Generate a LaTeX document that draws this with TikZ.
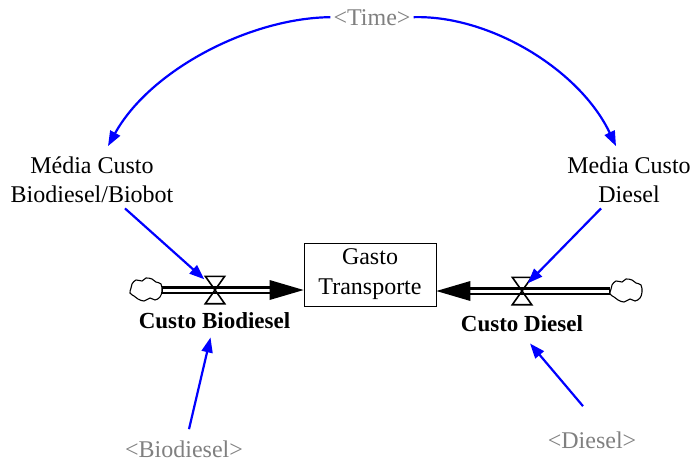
\documentclass[tikz,border=0pt]{standalone}
\usepackage{fontspec}
\setmainfont{Liberation Serif}
\usetikzlibrary{arrows.meta,calc}
\definecolor{linkblue}{RGB}{0,0,255}
\definecolor{shadowgray}{RGB}{128,128,128}
\begin{document}
\begin{tikzpicture}[x=1pt,y=-1pt,
  txt/.style={font=\fontsize{24}{29}\selectfont, align=center, inner sep=3pt},
  shadow/.style={txt, text=shadowgray},
  rate/.style={font=\fontsize{23}{28}\selectfont\bfseries, inner sep=3pt},
  stock/.style={draw, line width=0.8pt, minimum width=132pt, minimum height=63pt,
    font=\fontsize{24}{30}\selectfont, align=center, inner sep=0pt},
  valve/.style={minimum width=19pt, minimum height=27pt, inner sep=0pt},
  cloudnode/.style={minimum width=32pt, minimum height=25pt, inner sep=0pt},
  link/.style={draw=linkblue, line width=2.2pt,
    -{Triangle[length=15pt,width=11pt]}},
  pipeout/.style={line width=8pt, black},
  pipein/.style={line width=3pt, white},
  cloudline/.style={line width=1.1pt, black}
]
\useasboundingbox (0,0) rectangle (693,463);

% variables (base anchor sits on the last line of a two-line label)
\node[shadow, anchor=base] (time) at (372,25) {<Time>};
\node[txt, anchor=base] (mcb) at (92,202) {Média Custo\\Biodiesel/Biobot};
\node[txt, anchor=base] (mcd) at (629,202) {Media Custo\\Diesel};
\node[stock] (gt) at (370,274.5) {Gasto\\Transporte};
\node[shadow, anchor=base] (bio) at (184,457) {<Biodiesel>};
\node[shadow, anchor=base] (dsl) at (592,448) {<Diesel>};

% valves and clouds of the two flows
\node[valve] (vb) at (215,290) {};
\node[valve] (vd) at (522,291) {};
\node[cloudnode] (cl) at (146,290) {};
\node[cloudnode] (cr) at (626,291) {};
\node[rate, anchor=base] (cb) at (214.5,328) {Custo Biodiesel};
\node[rate, anchor=base] (cd) at (522,331) {Custo Diesel};

% pipes
\draw[pipeout] (cl.east) -- (vb.center) -- ($(gt.west |- vb)+(-32,0)$);
\draw[pipein] ($(cl.east)+(1,0)$) -- (vb.center) -- ($(gt.west |- vb)+(-30,0)$);
\fill ($(gt.west |- vb)$) -- ++(-34,-10) -- ++(0,20) -- cycle;
\draw[pipeout] (cr.west) -- (vd.center) -- ($(gt.east |- vd)+(32,0)$);
\draw[pipein] ($(cr.west)+(-1,0)$) -- (vd.center) -- ($(gt.east |- vd)+(30,0)$);
\fill ($(gt.east |- vd)$) -- ++(34,-10) -- ++(0,20) -- cycle;

% valve hourglasses
\foreach \v in {vb,vd}
  \draw[line width=1.6pt, line join=miter]
    (\v.north west) -- (\v.north east) -- (\v.south west) -- (\v.south east) -- cycle;

% clouds
\foreach \c in {cl,cr}
  \draw[cloudline, fill=white, shift={(\c.center)}] plot[smooth cycle, tension=0.6] coordinates {
    (-14,-6) (-10,-10) (-4,-9) (0,-12) (6,-11) (10,-8) (15,-6) (16,1)
    (14,7) (9,10) (4,8) (-2,11) (-8,9) (-12,6) (-16,3) (-15,-2)};

% information links
\draw[link] (time.west) .. controls (250,18) and (150,70) .. ($(mcb.north)+(16,-7)$);
\draw[link] (time.east) .. controls (490,15) and (580,70) .. ($(mcd.north)+(-13,-7)$);
\draw[link] ($(mcb.south)+(33,3)$) -- ($(vb.north west)+(-1,3)$);
\draw[link] ($(mcd.south)+(-28,3)$) -- ($(vd.north east)+(-4,6)$);
\draw[link] ($(bio.north)+(5,-8)$) -- ($(cb.south)+(-4,6)$);
\draw[link] ($(dsl.north)+(-9,-22)$) -- ($(cd.south)+(8,9)$);
\end{tikzpicture}
\end{document}
